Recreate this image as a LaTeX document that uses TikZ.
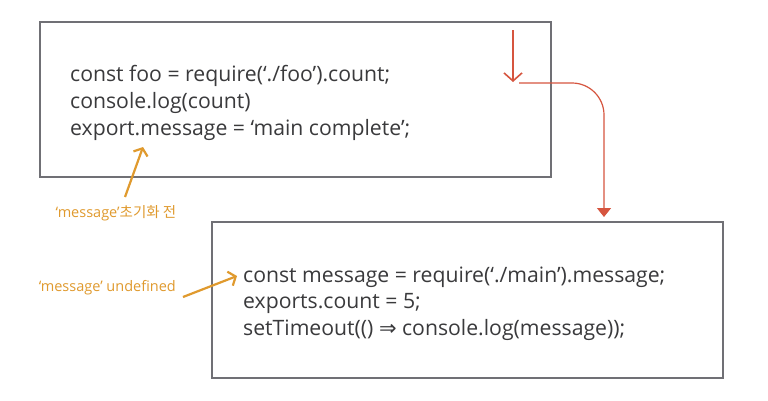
\documentclass[tikz,border=0pt]{standalone}
\usepackage{fontspec}
\setmainfont{Open Sans}
\newfontfamily\kr{Noto Sans CJK KR}
\newfontfamily\symfont{DejaVu Sans}
\usetikzlibrary{arrows.meta}
\definecolor{codegray}{HTML}{3A3A3C}
\definecolor{boxgray}{HTML}{707075}
\definecolor{redline}{HTML}{D6553F}
\definecolor{orangeline}{HTML}{E09A2E}
\tikzset{
  codebox/.style={draw=boxgray, line width=1.3pt, inner sep=0pt},
  codeline/.style={anchor=base west, inner sep=0pt, text=codegray, font=\fontsize{21.2}{25}\selectfont},
  note/.style={inner sep=0pt, text=orangeline, font=\fontsize{14.5}{17}\selectfont},
  redarrow/.style={draw=redline, line width=1.6pt, -{Straight Barb[length=8pt,width=18pt,line width=1.6pt]}},
  redflow/.style={draw=redline, line width=1.2pt, rounded corners=32pt, -{Triangle[length=9pt,width=14pt]}},
  orangearrow/.style={draw=orangeline, line width=2.2pt, -{Straight Barb[length=6pt,width=15pt,line width=2.2pt]}}
}
\begin{document}
\begin{tikzpicture}[x=1pt,y=-1pt]
\useasboundingbox[fill=white] (0,0) rectangle (768,400);
% boxes
\node[codebox, minimum width=511pt, minimum height=155pt] (box1) at (295.5,99.5) {};
\node[codebox, minimum width=511pt, minimum height=156pt] (box2) at (467.5,300) {};
% code box 1
\node[codeline] (a1) at (70,81) {const foo = require(‘./foo’).count;};
\node[codeline] (a2) at (70,108) {console.log(count)};
\node[codeline] (a3) at (70,135) {export.message = ‘main complete’;};
% code box 2
\node[codeline] (b1) at (243,282) {const message = require(‘./main’).message;};
\node[codeline] (b2) at (243,308) {exports.count = 5;};
\node[codeline] (b3) at (243,335) {setTimeout(() {\symfont\fontsize{21}{25}\selectfont ⇒} console.log(message));};
% notes
\node[note] (n1) at (116,213) {‘message’{\kr 초기화 전}};
\node[note, anchor=east] (n2) at (176,288) {‘message’ undefined};
% red arrows
\coordinate (r1s) at (513,30);
\coordinate (r1e) at (513,82);
\draw[redarrow] (r1s) -- (r1e);
\coordinate (r2s) at (519,83);
\coordinate (r2c) at (604,83);
\coordinate (r2e) at (604,217);
\draw[redflow] (r2s) -- (r2c) -- (r2e);
% orange arrows
\coordinate (o1s) at (125,197);
\coordinate (o1e) at (143,147);
\draw[orangearrow] (o1s) -- (o1e);
\coordinate (o2s) at (183,297);
\coordinate (o2e) at (237,276);
\draw[orangearrow] (o2s) -- (o2e);
\end{tikzpicture}
\end{document}
